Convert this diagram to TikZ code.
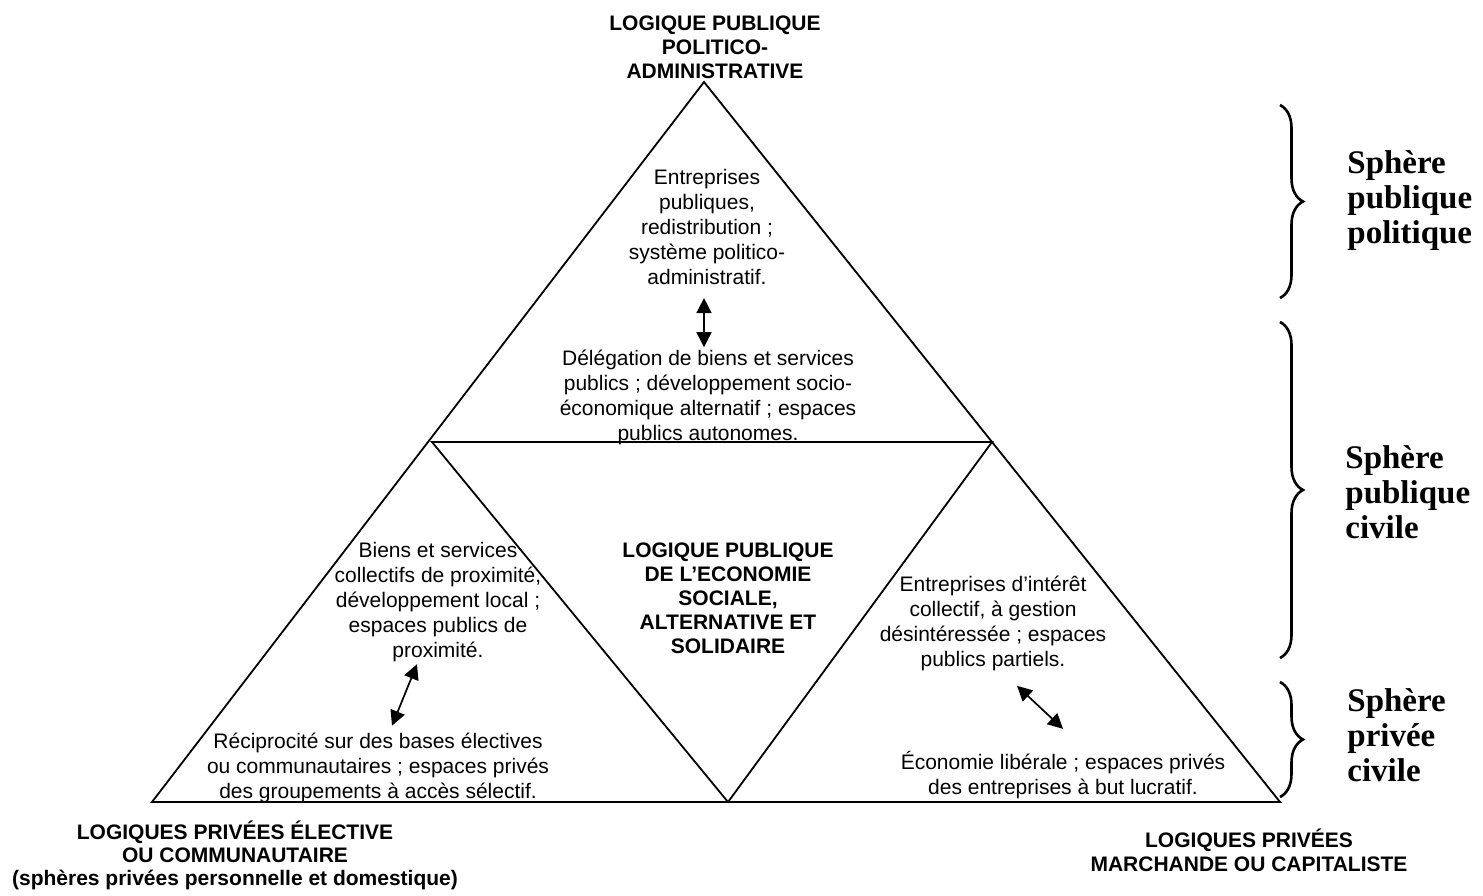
\documentclass[tikz,border=0pt]{standalone}
\usepackage{fontspec}
\setmainfont{Liberation Sans}
\newfontfamily\serifbold{Liberation Serif}
\usetikzlibrary{arrows.meta,decorations.pathreplacing}

\begin{document}
\begin{tikzpicture}[x=0.5pt,y=-0.5pt,
		tri/.style={draw, line width=0.9pt},
		blk/.style={align=center, inner sep=0pt, font=\fontsize{10.5}{12.5}\selectfont},
		ttl/.style={align=center, inner sep=0pt, font=\fontsize{10.5}{12}\selectfont\bfseries},
		sph/.style={align=left, anchor=west, inner sep=0pt, font=\fontsize{16.5}{17.5}\selectfont\serifbold\bfseries},
		dblarrow/.style={{Triangle[length=7.5pt,width=7.5pt]}-{Triangle[length=7.5pt,width=7.5pt]}, line width=0.85pt},
		brc/.style={decorate, decoration={brace, amplitude=11.5pt}, line width=1.3pt}
	]
	\useasboundingbox (0,0) rectangle (1483,895);

	% Triangles
	\coordinate (apex) at (704,82);
	\coordinate (bl) at (152,802);
	\coordinate (br) at (1280,802);
	\coordinate (ml) at (432,442);
	\coordinate (mr) at (992,442);
	\coordinate (mb) at (728,802);
	\draw[tri] (apex) -- (bl) -- (br) -- cycle;
	\draw[tri] (ml) -- (mr) -- (mb) -- cycle;

	% Poles
	\node[ttl] (poltop) at (715,47) {LOGIQUE PUBLIQUE\\POLITICO-\\ADMINISTRATIVE};
	\node[ttl, font=\fontsize{10.5}{11.5}\selectfont\bfseries] (polleft) at (235,855) {LOGIQUES PRIVÉES ÉLECTIVE\\OU COMMUNAUTAIRE\\(sphères privées personnelle et domestique)};
	\node[ttl] (polright) at (1249,850) {LOGIQUES PRIVÉES\\MARCHANDE OU CAPITALISTE};
	\node[ttl] (centre) at (728,598) {LOGIQUE PUBLIQUE\\DE L’ECONOMIE\\SOCIALE,\\ALTERNATIVE ET\\SOLIDAIRE};

	% Blocks
	\node[blk] (entpub) at (707,227) {Entreprises\\publiques,\\redistribution ;\\système politico-\\administratif.};
	\node[blk] (deleg) at (708,397) {Délégation de biens et services\\publics ; développement socio-\\économique alternatif ; espaces\\publics autonomes.};
	\node[blk] (prox) at (438,602) {Biens et services\\collectifs de proximité,\\développement local ;\\espaces publics de\\proximité.};
	\node[blk] (recip) at (378,768) {Réciprocité sur des bases électives\\ou communautaires ; espaces privés\\des groupements à accès sélectif.};
	\node[blk] (entint) at (993,623) {Entreprises d’intérêt\\collectif, à gestion\\désintéressée ; espaces\\publics partiels.};
	\node[blk] (ecolib) at (1063,775) {Économie libérale ; espaces privés\\des entreprises à but lucratif.};

	% Arrows
	\draw[dblarrow] ([xshift=-1.5pt,yshift=-6.5pt]entpub.south) -- ([xshift=-2pt,yshift=1pt]deleg.north);
	\draw[dblarrow] ([xshift=-10.5pt,yshift=-1pt]prox.south) -- ([xshift=7pt,yshift=3.5pt]recip.north);
	\draw[dblarrow] ([xshift=12pt,yshift=-7.5pt]entint.south) -- ([yshift=11pt]ecolib.north);

	% Spheres
	\draw[brc] (1280,105) -- (1280,298);
	\draw[brc] (1280,322) -- (1280,658);
	\draw[brc] (1280,682) -- (1280,797);
	\node[sph] (sphpol) at (1347,201) {Sphère\\publique\\politique};
	\node[sph] (sphciv) at (1345,492) {Sphère\\publique\\civile};
	\node[sph] (sphpriv) at (1347,735) {Sphère\\privée\\civile};
\end{tikzpicture}
\end{document}
